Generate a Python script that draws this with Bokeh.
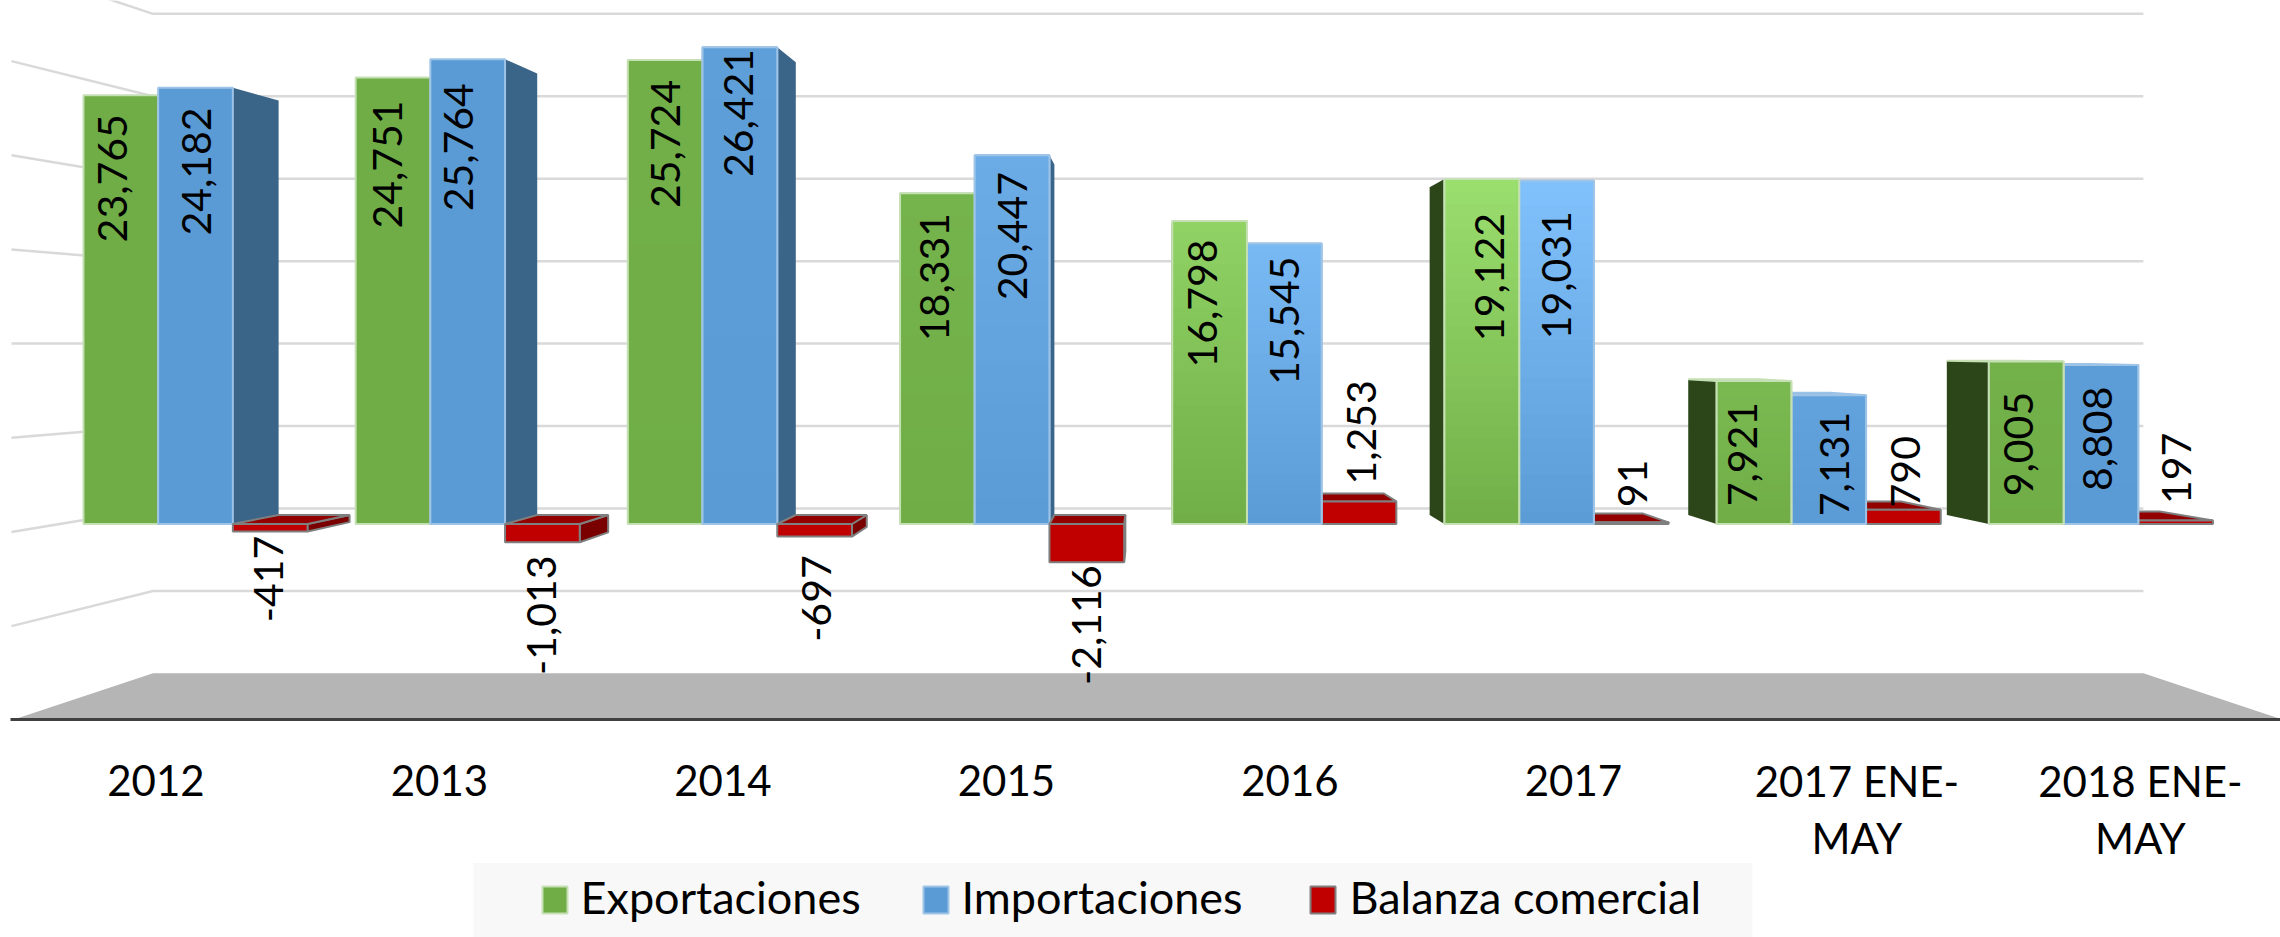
from math import pi
from bokeh.plotting import figure
from bokeh.models import Range1d, ColumnDataSource
from bokeh.core.properties import value
from bokeh.embed import file_html
from bokeh.resources import INLINE

# ---------- data ----------
categories = ["2012", "2013", "2014", "2015", "2016", "2017", "2017 ENE-MAY", "2018 ENE-MAY"]
exportaciones = [23765, 24751, 25724, 18331, 16798, 19122, 7921, 9005]
importaciones = [24182, 25764, 26421, 20447, 15545, 19031, 7131, 8808]
balanza = [-417, -1013, -697, -2116, 1253, 91, 790, 197]
grid_values = [-5000, 0, 5000, 10000, 15000, 20000, 25000, 30000]
floor_value = -10000
series_names = ["Exportaciones", "Importaciones", "Balanza comercial"]

# ---------- label nudges (screen px) ----------
nudge_x = [
    [-8.5, -5.7, 0.3, -2.9, -7.1, 7.7, -11.5, -8.2],
    [1, -9.5, -1.4, 0.4, 0.2, 0, 5.8, -3.4],
    [-1.7, -1, 2, -0.7, 2, 1.3, 1.7, 0.9],
]
nudge_y = [
    [83, 87, 84, 83.7, 82.5, 98, 73, 82.5],
    [83.7, 88, 65.6, 81, 77, 94.5, 68.6, 73.7],
    [47.5, 73, 62, 63, -69, -39, -38, -52],
]
# strength of the glossy highlight per category and series
sheen = [
    [0, 0, 0.05, 0.12, 0.75, 1.0, 0.25, 0.08],
    [0, 0, 0.1, 0.45, 0.8, 1.0, 0.2, 0.05],
]

# ---------- layout ----------
PX0, PXS = 195.0, 272.2     # px of category 0, px per category
PY0, PYS = 523.5, 0.01804   # px of value 0, px per unit
XC, VC = 3.5, 10000.0       # vanishing point in data units
BAR = 74.7 / PXS
D_BAR, D_WALL, D_FRONT = 0.95, 0.914, 1.044


def dx(px):
    return (px - PX0) / PXS


def dy(py):
    return (PY0 - py) / PYS


def proj(x, v, d=1.0):
    return XC + (x - XC) * d, VC + (v - VC) * d


def mix(c1, c2, t):
    a = [int(c1[i:i + 2], 16) for i in (1, 3, 5)]
    b = [int(c2[i:i + 2], 16) for i in (1, 3, 5)]
    return "#%02x%02x%02x" % tuple(round(a[k] + (b[k] - a[k]) * t) for k in range(3))


p = figure(width=2280, height=937, output_backend="svg", toolbar_location=None,
           x_range=Range1d(dx(0), dx(2280)), y_range=Range1d(dy(937), dy(0)),
           x_axis_type=None, y_axis_type=None, min_border=0, outline_line_color=None)
p.grid.visible = False
p.background_fill_color = "#ffffff"
p.border_fill_color = "#ffffff"

# ---------- walls and floor ----------
L, R = XC - 4, XC + 4
gx, gy = [], []
for g in grid_values:
    a = proj(L, g, D_FRONT)
    b = proj(L, g, D_WALL)
    c = proj(R, g, D_WALL)
    gx.append([a[0], b[0], c[0]])
    gy.append([a[1], b[1], c[1]])
p.multi_line(gx, gy, line_color="#d9d9d9", line_width=2.5)

fl = [proj(L, floor_value, D_FRONT), proj(L, floor_value, D_WALL),
      proj(R, floor_value, D_WALL), proj(R, floor_value, D_FRONT)]
p.patch([q[0] for q in fl], [q[1] for q in fl], fill_color="#b5b5b5", line_color=None)
p.line([dx(10), dx(2280)], [dy(719), dy(719)], line_color="#404040", line_width=3)

# ---------- bars as painter-ordered faces ----------
front_col = ["#70ad47", "#5b9bd5", "#c00000"]
light_col = ["#9ade6e", "#80c0fb", "#c00000"]
edge_col = ["#c5e0b4", "#9dc3e6", "#7f7f7f"]
side_col = ["#2c4619", "#3a6488", "#7a0000"]
top_col = ["#a9d18e", "#7fb2e3", "#920000"]
series = [exportaciones, importaciones, balanza]

faces = dict(xs=[], ys=[], fill=[], line=[], la=[], fa=[])


def face(pts, fill, line, la=1.0, fa=1.0):
    faces["xs"].append([q[0] for q in pts])
    faces["ys"].append([q[1] for q in pts])
    faces["fill"].append(fill)
    faces["line"].append(line)
    faces["la"].append(la)
    faces["fa"].append(fa)


def bar(i, s):
    x0 = i + (s - 1.5) * BAR
    x1 = x0 + BAR
    v = series[s][i]
    lo, hi = min(0, v), max(0, v)
    edge = edge_col[s]
    # side
    if x1 < XC or x0 > XC:
        xe = x1 if x1 < XC else x0
        face([proj(xe, lo), proj(xe, hi), proj(xe, hi, D_BAR), proj(xe, lo, D_BAR)],
             side_col[s], edge if s == 2 else side_col[s], 1.0 if s == 2 else 0.0)
    # top
    if hi < VC:
        face([proj(x0, hi), proj(x1, hi), proj(x1, hi, D_BAR), proj(x0, hi, D_BAR)],
             top_col[s], edge)
    # front
    rect = [(x0, lo), (x1, lo), (x1, hi), (x0, hi)]
    face(rect, front_col[s], edge)
    if s < 2 and sheen[s][i] > 0:
        n = 28
        for k in range(n):
            t = 1 - k / n
            vt = hi - (hi - lo) * k / n
            col = mix(front_col[s], light_col[s], t * sheen[s][i])
            face([(x0, lo), (x1, lo), (x1, vt), (x0, vt)], col, col, 0.0)
        face(rect, front_col[s], edge, 1.0, 0.0)


for i in range(len(categories)):
    order = [0, 1, 2] if i + 1.5 * BAR < XC + 0.2 else [2, 1, 0]
    for s in order:
        bar(i, s)

p.patches("xs", "ys", source=ColumnDataSource(faces), fill_color="fill", fill_alpha="fa",
          line_color="line", line_alpha="la", line_width=2)

# ---------- data labels ----------
for s in range(3):
    xs = [i + (s - 1) * BAR for i in range(len(categories))]
    txt = [f"{v:,}" for v in series[s]]
    src = ColumnDataSource(dict(x=xs, y=series[s], t=txt, ox=nudge_x[s], oy=nudge_y[s]))
    p.text("x", "y", text="t", source=src, angle=pi / 2, text_align="center",
           text_baseline="middle", x_offset="ox", y_offset="oy", text_color="#000000",
           text_font=value("Lato"), text_font_size="41px")

# ---------- category labels ----------
lx, ly, lt = [], [], []
for i, c in enumerate(categories):
    parts = c.split("-")
    xc = XC + (i - XC) * 1.0415
    if len(parts) == 2:
        lx += [xc, xc]
        ly += [dy(780), dy(837)]
        lt += [parts[0] + "-", parts[1]]
    else:
        lx.append(xc)
        ly.append(dy(780))
        lt.append(c)
p.text(lx, ly, text=lt, text_align="center", text_baseline="middle", text_color="#000000",
       text_font=value("Lato"), text_font_size="42px")

# ---------- legend ----------
p.quad(left=[dx(473)], right=[dx(1752)], top=[dy(862.6)], bottom=[dy(937)],
       fill_color="#f8f8f8", line_color=None)
swatch_px = [541, 922, 1309]
text_px = [580, 961, 1349]
for s in range(3):
    p.quad(left=[dx(swatch_px[s] + 1)], right=[dx(swatch_px[s] + 26)], top=[dy(886)], bottom=[dy(913)],
           fill_color=front_col[s], line_color=edge_col[s], line_width=2)
    p.text([dx(text_px[s])], [dy(896)], text=[series_names[s]], text_align="left",
           text_baseline="middle", text_color="#000000",
           text_font=value("Lato"), text_font_size="45px")

open("out.html", "w").write(file_html(p, INLINE))
